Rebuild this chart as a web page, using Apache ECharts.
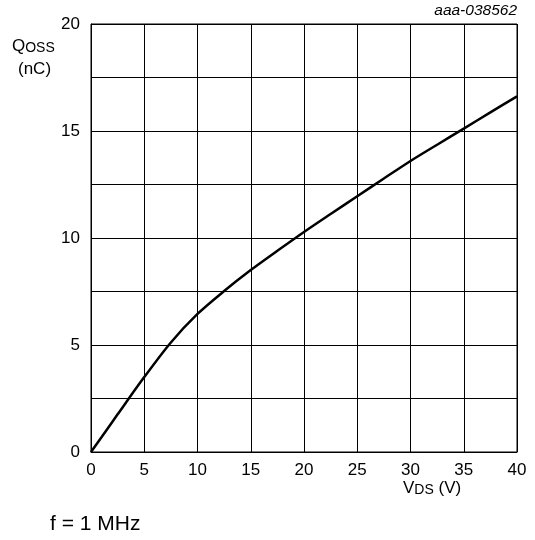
<!DOCTYPE html>
<html>
<head>
<meta charset="utf-8">
<script src="https://cdn.jsdelivr.net/npm/echarts@6/dist/echarts.min.js"></script>
<style>html,body{margin:0;padding:0;background:#fff}#c{width:535px;height:540px}</style>
</head>
<body>
<div id="c"></div>
<script>
var vds = [0, 1, 2.5, 5, 7.5, 10, 12.5, 15, 17.5, 20, 22.5, 25, 27.5, 30, 32.5, 35, 37.5, 40];
var qoss = [0, 0.7, 1.76, 3.5, 5.12, 6.45, 7.52, 8.5, 9.4, 10.28, 11.12, 11.95, 12.78, 13.6, 14.36, 15.11, 15.87, 16.62];
var yTicks = [0, 5, 10, 15, 20];
var xTicks = [0, 5, 10, 15, 20, 25, 30, 35, 40];

var font = 'Liberation Sans, Arial, sans-serif';
var chart = echarts.init(document.getElementById('c'), null, {renderer: 'canvas'});
var pts = vds.map(function (v, i) { return [v, qoss[i]]; });
chart.setOption({
  animation: false,
  grid: {left: 91, right: 18, top: 24, bottom: 88, show: true, borderColor: '#000', borderWidth: 1},
  xAxis: {
    type: 'value', min: 0, max: 40, interval: 5,
    axisLine: {show: true, lineStyle: {color: '#000', width: 1}},
    axisTick: {show: false},
    splitLine: {show: true, lineStyle: {color: '#000', width: 1}},
    axisLabel: {color: '#000', fontSize: 17, fontFamily: font, margin: 10,
      formatter: function (v) { return xTicks.indexOf(v) >= 0 ? String(v) : ''; }}
  },
  yAxis: {
    type: 'value', min: 0, max: 20, interval: 2.5,
    axisLine: {show: true, lineStyle: {color: '#000', width: 1}},
    axisTick: {show: false},
    splitLine: {show: true, lineStyle: {color: '#000', width: 1}},
    axisLabel: {color: '#000', fontSize: 17, fontFamily: font, margin: 11,
      formatter: function (v) { return yTicks.indexOf(v) >= 0 ? String(v) : ''; }}
  },
  series: [{
    type: 'line', data: pts, smooth: 0.3, showSymbol: false,
    lineStyle: {color: '#000', width: 2.5}
  }],
  graphic: [
    {type: 'text', left: 12, top: 38, style: {
      text: '{a|Q}{b|OSS}', rich: {
        a: {fontSize: 17, fontFamily: font, fill: '#000', verticalAlign: 'bottom'},
        b: {fontSize: 14, fontFamily: font, fill: '#000', padding: [6, 0, 0, 0], verticalAlign: 'bottom'}
      }}},
    {type: 'text', left: 18, top: 61, style: {text: '(nC)', fontSize: 17, fontFamily: font, fill: '#000'}},
    {type: 'text', right: 18, top: 3, style: {text: 'aaa-038562', fontSize: 15.5, fontStyle: 'italic', fontFamily: font, fill: '#000'}},
    {type: 'text', left: 403, top: 480, style: {
      text: '{a|V}{b|DS}{a| (V)}', rich: {
        a: {fontSize: 17, fontFamily: font, fill: '#000', verticalAlign: 'bottom'},
        b: {fontSize: 14, fontFamily: font, fill: '#000', padding: [6, 0, 0, 0], verticalAlign: 'bottom'}
      }}},
    {type: 'text', left: 50, top: 514, style: {text: 'f = 1 MHz', fontSize: 21, fontFamily: font, fill: '#000'}}
  ]
});
</script>
</body>
</html>
